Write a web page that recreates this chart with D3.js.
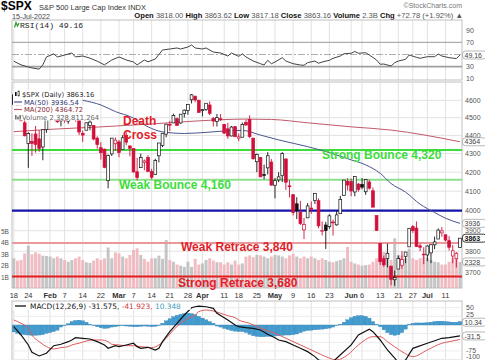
<!DOCTYPE html>
<html>
<head>
<meta charset="utf-8">
<script src="https://cdn.jsdelivr.net/npm/d3@7"></script>
<style>
body { margin: 0; background: #fff; }
svg { display: block; font-family: "Liberation Sans", Arial, sans-serif; }
</style>
</head>
<body>
<div id="chart"></div>
<script>
// trading days, 18 Jan 2022 .. 15 Jul 2022
var dates = ["1-18","1-19","1-20","1-21","1-24","1-25","1-26","1-27","1-28","1-31",
  "2-1","2-2","2-3","2-4","2-7","2-8","2-9","2-10","2-11","2-14","2-15","2-16","2-17","2-18","2-22","2-23","2-24","2-25","2-28",
  "3-1","3-2","3-3","3-4","3-7","3-8","3-9","3-10","3-11","3-14","3-15","3-16","3-17","3-18","3-21","3-22","3-23","3-24","3-25","3-28","3-29","3-30","3-31",
  "4-1","4-4","4-5","4-6","4-7","4-8","4-11","4-12","4-13","4-14","4-18","4-19","4-20","4-21","4-22","4-25","4-26","4-27","4-28","4-29",
  "5-2","5-3","5-4","5-5","5-6","5-9","5-10","5-11","5-12","5-13","5-16","5-17","5-18","5-19","5-20","5-23","5-24","5-25","5-26","5-27","5-31",
  "6-1","6-2","6-3","6-6","6-7","6-8","6-9","6-10","6-13","6-14","6-15","6-16","6-17","6-21","6-22","6-23","6-24","6-27","6-28","6-29","6-30",
  "7-1","7-5","7-6","7-7","7-8","7-11","7-12","7-13","7-14","7-15"];

var open = [4632,4588,4547,4471,4356,4367,4408,4381,4336,4432,
  4519,4566,4535,4482,4505,4480,4548,4553,4506,4412,4429,4455,4456,4385,4332,4324,4155,4298,4354,
  4364,4322,4401,4342,4327,4202,4224,4253,4279,4203,4188,4288,4345,4407,4462,4470,4494,4470,4523,4541,4603,4624,4600,
  4540,4547,4573,4495,4479,4494,4462,4437,4397,4449,4385,4390,4473,4489,4385,4256,4279,4187,4223,4254,
  4131,4159,4181,4271,4128,4082,4035,3991,3904,3964,4013,4052,4051,3900,3928,3920,3943,3929,3985,4078,4151,
  4150,4096,4137,4135,4097,4148,4102,3975,3838,3764,3765,3729,3665,3715,3733,3775,3821,3920,3913,3826,3786,
  3782,3792,3831,3859,3889,3880,3851,3777,3764,3818];
var high = [4632,4612,4602,4495,4417,4411,4453,4429,4433,4517,
  4550,4595,4542,4540,4521,4531,4590,4589,4527,4427,4472,4490,4456,4395,4363,4327,4295,4385,4389,
  4375,4401,4417,4343,4328,4277,4300,4268,4292,4218,4272,4358,4412,4465,4482,4523,4501,4520,4547,4575,4637,4627,4604,
  4549,4583,4593,4503,4521,4521,4464,4471,4453,4453,4411,4472,4489,4513,4386,4300,4279,4240,4308,4270,
  4169,4200,4308,4271,4158,4082,4069,4050,3964,4039,4047,4089,4063,3946,3944,3982,3955,3999,4076,4158,4168,
  4166,4177,4143,4169,4164,4160,4119,3975,3838,3779,3837,3729,3708,3779,3801,3797,3913,3928,3946,3837,3819,
  3829,3833,3871,3911,3918,3880,3873,3830,3796,3863.6];
var low = [4569,4530,4478,4395,4223,4287,4305,4310,4264,4414,
  4484,4544,4470,4451,4471,4465,4548,4477,4402,4364,4429,4429,4373,4327,4267,4221,4115,4287,4316,
  4280,4322,4346,4285,4199,4157,4224,4210,4200,4162,4188,4252,4335,4390,4425,4470,4455,4465,4501,4517,4582,4589,4530,
  4507,4539,4514,4450,4450,4481,4408,4381,4395,4392,4368,4390,4453,4385,4267,4200,4175,4162,4188,4128,
  4063,4147,4148,4107,4068,3976,3958,3928,3859,3964,3984,4034,3912,3877,3811,3909,3876,3925,3985,4078,4104,
  4074,4074,4097,4110,4081,4108,4018,3901,3735,3725,3723,3640,3637,3715,3717,3743,3821,3889,3820,3800,3738,
  3752,3743,3810,3859,3870,3847,3803,3742,3722,3817.2];
var close = [4577,4533,4483,4398,4410,4356,4350,4327,4432,4516,
  4547,4589,4477,4501,4484,4522,4587,4504,4419,4402,4471,4475,4380,4349,4305,4226,4289,4385,4374,
  4306,4387,4363,4329,4201,4171,4278,4260,4204,4173,4262,4358,4412,4463,4461,4512,4456,4520,4543,4576,4632,4602,4530,
  4546,4583,4525,4481,4500,4488,4413,4397,4447,4393,4392,4462,4459,4394,4272,4296,4175,4184,4288,4132,
  4155,4175,4300,4147,4123,3991,4001,3935,3930,4024,4008,4089,3924,3901,3901,3974,3941,3979,4058,4158,4132,
  4101,4177,4109,4121,4161,4116,4018,3901,3750,3735,3790,3667,3675,3765,3760,3796,3912,3900,3822,3819,3785,
  3825,3831,3845,3903,3899,3854,3819,3802,3790,3863.16];
// volume, billions of shares
var volume = [2.65,2.44,2.5,3.09,3.76,3.0,3.17,3.05,2.88,2.85,
  2.8,2.65,2.8,2.65,2.5,2.35,2.5,2.65,2.8,2.5,2.3,2.25,2.45,2.65,2.5,2.65,3.6,2.65,3.17,
  3.09,2.8,2.65,2.94,3.38,3.53,2.94,2.6,2.35,2.65,2.65,2.88,2.6,4.25,2.5,2.35,2.1,2.0,1.9,2.35,1.9,2.6,2.1,
  2.2,2.5,2.65,2.45,2.3,2.3,2.1,2.3,2.1,2.45,2.1,2.2,2.8,2.9,2.75,2.94,2.9,2.8,2.65,2.8,
  2.94,2.9,2.8,2.65,2.9,3.05,2.8,2.65,2.8,2.65,2.8,2.65,2.5,2.65,2.5,2.35,2.3,2.4,2.5,2.65,3.65,
  2.35,2.2,2.1,2.0,2.05,2.1,2.35,2.65,3.5,3.2,2.8,2.5,4.4,2.94,2.9,2.65,3.5,2.65,2.5,2.65,2.8,
  2.65,2.5,2.35,2.3,2.1,2.1,2.35,2.65,2.65,2.33];

// moving averages (trading day number, value)
var ma50Day = [19,24,28,33,37,41,47,53,59,63,68,73,81,87,93,97,101,104,108,112,116,119,123];
var ma50Val = [4600,4573,4535,4498,4448,4420,4411,4417,4426,4428,4402,4375,4338,4305,4266,4239,4194,4140,4095,4033,3991,3962,3936.54];
var ma200Day = [0,10,24,37,51,64,71,81,93,104,113,123];
var ma200Val = [4421,4434,4448,4463,4482,4492,4490,4471,4448,4430,4403,4364.72];

// RSI(14)
var rsiDay = [0,2,4,5,7,8,9,11,12,14,16,17,19,21,23,25,27,29,31,33,34,36,37,39,41,43,45,46,48,49,50,52,53,55,57,59,60,62,63,64,
  66,68,69,70,71,72,74,75,77,79,80,81,83,84,85,87,88,90,91,93,94,95,97,98,100,101,102,104,105,106,108,109,111,112,114,116,117,118,120,122,123];
var rsiVal = [39,33,29.5,28,26,33,46,51,46,49,52.5,46,47.5,44,39,33,41,46,41,37.7,33,41,38,42.6,57.4,59,60.7,59,62.3,65.6,60.7,59,60.7,54,52.5,47.5,52.5,47,51,46,
  39.3,34.9,32.8,40.5,34.9,37.7,44.8,39.3,34.9,32.8,32.3,36.6,39.3,35.6,37.7,40.5,43.8,47.5,51.2,52,54.9,52,52.9,49.2,41,34,34.4,31.1,36.6,39.3,42.1,49.2,45.4,43.8,46.4,46.4,50.8,47.5,44.8,43.3,49.16];

// MACD(12,26,9)
var macdDay = [0,2,4,5,7,9,11,13,15,16,17,19,21,23,25,26,28,29,31,33,34,35,37,39,40,41,43,45,47,49,50,51,53,55,56,59,61,62,64,66,68,70,72,73,75,77,79,81,83,84,86,88,89,93,95,98,99,101,103,105,106,107,108,110,114,118,120,123];
var macdVal = [-4.9,-28.9,-57.7,-78.8,-89.5,-81.7,-59.8,-55.7,-48.2,-43.3,-36.7,-38.4,-40.4,-48.2,-57.7,-67.3,-59.8,-62.6,-57.7,-52.8,-62.6,-67.3,-64.4,-72.2,-67.3,-48.2,-19.3,4.9,28.9,49.9,52.8,54.8,52.8,48.2,33.8,14.4,0,-4.9,-7.7,-9.6,-14.4,-26.9,-36.6,-43.3,-48.1,-57.7,-67.4,-77,-91.4,-101,-108,-106,-96,-57.7,-28.9,-12.4,-19.3,-43.3,-72.2,-96,-108,-110,-101,-67.4,-52.8,-38.4,-36.6,-31.575];
var signalDay = [0,2,4,5,7,9,11,13,15,16,18,20,22,24,26,27,29,31,33,35,37,38,40,42,44,46,48,50,51,53,55,57,59,61,62,65,68,72,75,79,83,86,89,92,95,99,101,103,107,110,114,118,120,123];
var signalVal = [14.4,4.9,-9.5,-28.9,-48.2,-62.6,-69.3,-65.5,-62.6,-57.7,-52.8,-46.2,-43.3,-43.3,-48.2,-55.7,-57.7,-59.8,-59.8,-62.6,-64.4,-65.5,-57.7,-38.4,-14.4,4.9,19.3,28.9,38.4,43.3,40.4,33.8,26.9,21.1,14.4,4.9,-9.6,-24,-38.4,-57.7,-77,-91.4,-101,-86.6,-57.7,-33.8,-33.8,-48.1,-77,-91.4,-72.2,-52.8,-48.1,-41.923];
var histVal = [-20,-24,-27,-28,-29,-30,-30,-29,-28,-24,-22,-19,-15,-6,-2,4,10,13,14,12,8,2,-2,-5,-8,-10,-9,-6,-5,
  -3,-2,-3,-4,-5,-5,-4,-3,-4,-5,-4,-2,5,12,18,24,28,31,33,34,33,30,25,
  20,15,10,5,-3,-6,-10,-13,-16,-18,-19,-19,-22,-27,-31,-33,-34,-34,-33,-33,
  -32,-31,-30,-29,-29,-28,-26,-22,-18,-16,-15,-14,-13,-12,-11,-9,-6,-2,2,8,15,
  21,25,27,27,25,20,10,2,-5,-14,-22,-28,-30,-28,-22,-12,2,5,6,6,6,
  7,8,10,11,11,10,9,8,8,10.35];

var tickDates = ["1-18","1-24","2-1","2-7","2-14","2-22","3-1","3-7","3-14","3-21","3-28","4-1","4-11","4-18","4-25","5-2","5-9","5-16","5-23","6-1","6-6","6-13","6-21","6-27","7-1","7-11"];
var tickLabels = ["18","24","Feb","7","14","22","Mar","7","14","21","28","Apr","11","18","25","May","9","16","23","Jun","6","13","21","27","Jul","11"];
var priceTicks = [3700,3800,3900,4000,4100,4200,4300,4400,4500,4600];
var volTicks = [1,2,3,4,5];
var rsiTicks = [10,30,70,90];
var macdGrid = [50,25,0,-25,-50,-75,-100];
var macdTicks = [50,25,-75,-100];

// support / resistance notes
var levels = [4320,4160,4000,3840,3680];
var levelColors = ["#3ddc3d","#8ee08e","#1414a8","#e89a9a","#e01e1e"];
var levelNames = ["Strong Bounce 4,320","Weak Bounce 4,160","","Weak Retrace 3,840","Strong Retrace 3,680"];

var W = 485, H = 360;
var left = 12, right = 462;
var rsiTop = 20, rsiBot = 80, pTop = 82, pBot = 288, mTop = 301, mBot = 360;

var svg = d3.select("#chart").append("svg").attr("width", W).attr("height", H);

var x = d3.scalePoint().domain(dates).range([13.8, 460]);
var xi = function(i) { return x(dates[i]); };
var yP = d3.scaleLog().domain([3627, 4708]).range([pBot, pTop]);
var yV = d3.scaleLinear().domain([0, 5]).range([288.5, 231.5]);
var yR = d3.scaleLinear().domain([0, 100]).range([85, 24]);
var yM = d3.scaleLinear().domain([-100, 50]).range([359.6, 307.7]);

var defs = svg.append("defs");
function clip(id, y0, y1) {
  defs.append("clipPath").attr("id", id).append("rect")
    .attr("x", left).attr("y", y0).attr("width", right - left).attr("height", y1 - y0);
}
clip("cr", rsiTop, rsiBot); clip("cp", pTop, pBot); clip("cm", mTop, mBot);

// ---------- header ----------
svg.append("text").attr("x", 1).attr("y", 9.6).attr("font-size", 12).attr("font-weight", "bold").text("$SPX");
svg.append("text").attr("x", 39).attr("y", 9.5).attr("font-size", 7.5).attr("fill", "#333").text("S&P 500 Large Cap Index  INDX");
svg.append("text").attr("x", 462).attr("y", 7.5).attr("font-size", 7).attr("fill", "#777").attr("text-anchor", "end").text("\u00a9StockCharts.com");
svg.append("text").attr("x", 12).attr("y", 18.5).attr("font-size", 7.2).attr("fill", "#444").text("15-Jul-2022");

var hdr = svg.append("text").attr("x", 463).attr("y", 17.5).attr("font-size", 7.6).attr("text-anchor", "end");
[["Open ", "3818.00 "], ["High ", "3863.62 "], ["Low ", "3817.18 "], ["Close ", "3863.16 "], ["Volume ", "2.3B "], ["Chg ", "+72.78 (+1.92%) \u25b2"]]
  .forEach(function(p) {
    hdr.append("tspan").attr("font-weight", "bold").attr("fill", "#111").text(p[0]);
    hdr.append("tspan").attr("fill", "#555").text(p[1]);
  });

// ---------- panel frames + vertical grid ----------
[[rsiTop, rsiBot], [pTop, pBot], [mTop, mBot]].forEach(function(p) {
  var g = svg.append("g");
  g.selectAll("line").data(tickDates).enter().append("line")
    .attr("x1", function(d) { return x(d); }).attr("x2", function(d) { return x(d); })
    .attr("y1", p[0]).attr("y2", p[1])
    .attr("stroke", "#e2e2e2").attr("stroke-width", 1);
  g.append("rect").attr("x", left).attr("y", p[0]).attr("width", right - left).attr("height", p[1] - p[0])
    .attr("fill", "none").attr("stroke", "#b0b0b0").attr("stroke-width", 0.8);
});

// ---------- RSI ----------
svg.append("line").attr("x1", left).attr("x2", right).attr("y1", yR(70)).attr("y2", yR(70)).attr("stroke", "#9a9a9a").attr("stroke-width", 1);
svg.append("line").attr("x1", left).attr("x2", right).attr("y1", yR(30)).attr("y2", yR(30)).attr("stroke", "#a0a0a0").attr("stroke-width", 1.8);
svg.append("line").attr("x1", left).attr("x2", right).attr("y1", yR(50)).attr("y2", yR(50)).attr("stroke", "#999").attr("stroke-width", 0.8).attr("stroke-dasharray", "7,2,2,2");
svg.append("path").datum(rsiDay).attr("clip-path", "url(#cr)")
  .attr("d", d3.line().x(function(d) { return xi(d); }).y(function(d, i) { return yR(rsiVal[i]); }))
  .attr("fill", "none").attr("stroke", "#444").attr("stroke-width", 1);
svg.append("rect").attr("x", 13).attr("y", 21).attr("width", 70).attr("height", 8).attr("fill", "#fff");
svg.append("path").attr("d", "M14.5,27.5 L16,22.5 L17.5,26 L19,23").attr("fill", "none").attr("stroke", "#2a9a2a").attr("stroke-width", 1.2);
svg.append("text").attr("x", 20).attr("y", 28).attr("font-family", "Liberation Mono, monospace").attr("font-size", 8.1).attr("fill", "#222").text("RSI(14) 49.16");
svg.selectAll(".rt").data(rsiTicks).enter().append("text")
  .attr("x", 466).attr("y", function(d) { return yR(d) + 2.5; })
  .attr("font-size", 7).attr("fill", "#555").text(function(d) { return d; });

// ---------- price panel ----------
var pg = svg.append("g").attr("clip-path", "url(#cp)");
pg.selectAll(".hg").data(priceTicks).enter().append("line")
  .attr("x1", left).attr("x2", right).attr("y1", function(d) { return yP(d); }).attr("y2", function(d) { return yP(d); })
  .attr("stroke", "#e2e2e2");

// volume overlay
var bw = x.step() * 0.82;
pg.selectAll(".vb").data(volume).enter().append("rect")
  .attr("x", function(d, i) { return xi(i) - bw / 2; })
  .attr("y", function(d) { return yV(d); })
  .attr("width", bw).attr("height", function(d) { return yV(0) - yV(d); })
  .attr("fill", function(d, i) { return i > 0 && close[i] < close[i - 1] ? "#f0b0b8" : "#bbbbbb"; })
  .attr("fill-opacity", 0.85);

// level lines
pg.selectAll(".lv").data(levels).enter().append("line")
  .attr("x1", left).attr("x2", right)
  .attr("y1", function(d) { return yP(d); }).attr("y2", function(d) { return yP(d); })
  .attr("stroke", function(d, i) { return levelColors[i]; })
  .attr("stroke-width", function(d, i) { return i == 2 ? 2.2 : 2; });

// moving averages
pg.append("path").datum(ma200Day)
  .attr("d", d3.line().curve(d3.curveMonotoneX).x(function(d) { return xi(d); }).y(function(d, i) { return yP(ma200Val[i]); }))
  .attr("fill", "none").attr("stroke", "#c05a6a").attr("stroke-width", 1);
pg.append("path").datum(ma50Day)
  .attr("d", d3.line().curve(d3.curveMonotoneX).x(function(d) { return xi(d); }).y(function(d, i) { return yP(ma50Val[i]); }))
  .attr("fill", "none").attr("stroke", "#4a5590").attr("stroke-width", 1);

// candles
var cw = 2.8;
var candles = pg.selectAll(".cd").data(close).enter().append("g");
function col(i) { return i > 0 && close[i] < close[i - 1] ? "#d0103a" : "#111"; }
candles.append("line")
  .attr("x1", function(d, i) { return xi(i); }).attr("x2", function(d, i) { return xi(i); })
  .attr("y1", function(d, i) { return yP(high[i]); }).attr("y2", function(d, i) { return yP(low[i]); })
  .attr("stroke", function(d, i) { return col(i); }).attr("stroke-width", 0.9);
candles.append("rect")
  .attr("x", function(d, i) { return xi(i) - cw / 2; })
  .attr("y", function(d, i) { return yP(Math.max(open[i], close[i])); })
  .attr("width", cw)
  .attr("height", function(d, i) { return Math.max(0.8, Math.abs(yP(open[i]) - yP(close[i]))); })
  .attr("fill", function(d, i) { return close[i] > open[i] ? "#fff" : col(i); })
  .attr("stroke", function(d, i) { return col(i); }).attr("stroke-width", 0.7);

// note texts
var noteX = [322, 119, 0, 181, 178];
var noteY = [159, 188.5, 0, 251, 287];
svg.selectAll(".nt").data(levelNames).enter().filter(function(d) { return d != ""; }).append("text")
  .attr("x", function(d) { return noteX[levelNames.indexOf(d)]; })
  .attr("y", function(d) { return noteY[levelNames.indexOf(d)]; })
  .attr("font-size", 12).attr("font-weight", "bold")
  .attr("fill", function(d) { return levelNames.indexOf(d) < 2 ? "#3ddc3d" : "#e01e2a"; })
  .text(function(d) { return d; });
svg.append("text").attr("x", 123).attr("y", 125).attr("font-size", 12).attr("font-weight", "bold").attr("fill", "#e01e2a").text("Death");
svg.append("text").attr("x", 123).attr("y", 139).attr("font-size", 12).attr("font-weight", "bold").attr("fill", "#e01e2a").text("Cross");

// legend
var legend = [
  { t: "$SPX (Daily) 3863.16", c: "#222", y: 97 },
  { t: "MA(50) 3936.54", c: "#2c3570", y: 104.5 },
  { t: "MA(200) 4364.72", c: "#8a2a3a", y: 112 },
  { t: "Volume 2,328,811,264", c: "#666", y: 119.5 }
];
legend.forEach(function(l, k) {
  var tx = k == 0 || k == 3 ? 22 : 24;
  var t = svg.append("text").attr("x", tx).attr("y", l.y).attr("font-family", "DejaVu Sans, sans-serif")
    .attr("font-size", 6.8).attr("fill", l.c).text(l.t);
  var w = t.node().getComputedTextLength();
  svg.insert("rect", "text:last-of-type").attr("x", 13).attr("y", l.y - 6.5).attr("width", tx - 13 + w + 1).attr("height", 7.5).attr("fill", "#fff");
  t.raise();
});
svg.append("rect").attr("x", 15).attr("y", 92).attr("width", 1.6).attr("height", 4).attr("fill", "#111");
svg.append("rect").attr("x", 18).attr("y", 91).attr("width", 1.6).attr("height", 5).attr("fill", "#fff").attr("stroke", "#111").attr("stroke-width", 0.5);
svg.append("line").attr("x1", 14).attr("x2", 22).attr("y1", 102).attr("y2", 102).attr("stroke", "#4a5590").attr("stroke-width", 1.2);
svg.append("line").attr("x1", 14).attr("x2", 22).attr("y1", 109.5).attr("y2", 109.5).attr("stroke", "#c05a6a").attr("stroke-width", 1.2);
[15, 17.2, 19.4].forEach(function(v, k) {
  svg.append("rect").attr("x", v).attr("y", 115 + (k % 2) * 1.5).attr("width", 1.6).attr("height", 4.5 - (k % 2) * 1.5).attr("fill", "#777");
});

// price axis labels
svg.selectAll(".pt").data(priceTicks).enter().append("text")
  .attr("x", 465).attr("y", function(d) { return yP(d) + 2.5; })
  .attr("font-size", 7).attr("fill", "#555").text(function(d) { return d; });
svg.selectAll(".vt").data(volTicks).enter().append("text")
  .attr("x", 1).attr("y", function(d) { return yV(d) + 2.5; })
  .attr("font-size", 6.5).attr("fill", "#555").text(function(d) { return d + "B"; });

// value boxes on the right edge
function valueBox(y, label, bold) {
  svg.append("rect").attr("x", 462.5).attr("y", y - 4).attr("width", 24).attr("height", 8).attr("rx", 3)
    .attr("fill", "#fff").attr("stroke", bold ? "#222" : "#888").attr("stroke-width", bold ? 0.9 : 0.6);
  svg.append("text").attr("x", 464.5).attr("y", y + 2.6).attr("font-size", 7)
    .attr("font-weight", bold ? "bold" : "normal").attr("fill", bold ? "#111" : "#444").text(label);
}
valueBox(yR(49.16), "49.16", false);
valueBox(yP(4364.72), "4364", false);
valueBox(yP(3936.54), "3936", false);
valueBox(yP(3863.16), "3863", true);
valueBox(yV(2.328811264), "2328", false);

// date labels
svg.selectAll(".dl").data(tickDates).enter().append("text")
  .attr("x", function(d) { return x(d); }).attr("y", 298)
  .attr("text-anchor", "middle").attr("font-size", 7.5)
  .attr("font-weight", function(d, i) { return isNaN(+tickLabels[i]) ? "bold" : "normal"; })
  .attr("fill", "#333").text(function(d, i) { return tickLabels[i]; });

// ---------- MACD ----------
var mg = svg.append("g").attr("clip-path", "url(#cm)");
mg.selectAll(".mgl").data(macdGrid).enter().append("line")
  .attr("x1", left).attr("x2", right).attr("y1", function(d) { return yM(d); }).attr("y2", function(d) { return yM(d); })
  .attr("stroke", "#ececec");
var hw = x.step() * 0.95;
mg.selectAll(".hb").data(histVal).enter().append("rect")
  .attr("x", function(d, i) { return xi(i) - hw / 2; })
  .attr("y", function(d) { return d > 0 ? yM(d) : yM(0); })
  .attr("width", hw).attr("height", function(d) { return Math.abs(yM(d) - yM(0)); })
  .attr("fill", "#3f9bd0").attr("stroke", "#2f7aa8").attr("stroke-width", 0.3);
mg.append("path").datum(signalDay)
  .attr("d", d3.line().curve(d3.curveMonotoneX).x(function(d) { return xi(d); }).y(function(d, i) { return yM(signalVal[i]); }))
  .attr("fill", "none").attr("stroke", "#e05a5a").attr("stroke-width", 1);
mg.append("path").datum(macdDay)
  .attr("d", d3.line().x(function(d) { return xi(d); }).y(function(d, i) { return yM(macdVal[i]); }))
  .attr("fill", "none").attr("stroke", "#111").attr("stroke-width", 1.2);

svg.append("rect").attr("x", 13).attr("y", 302).attr("width", 178).attr("height", 8).attr("fill", "#fff").attr("fill-opacity", 0.8);
svg.append("line").attr("x1", 15).attr("x2", 26).attr("y1", 306).attr("y2", 306).attr("stroke", "#111").attr("stroke-width", 1.3);
var ml = svg.append("text").attr("x", 30).attr("y", 309).attr("font-family", "DejaVu Sans, sans-serif").attr("font-size", 7.4);
ml.append("tspan").attr("fill", "#222").text("MACD(12,26,9) -31.575, ");
ml.append("tspan").attr("fill", "#d04040").text("-41.923, ");
ml.append("tspan").attr("fill", "#3f9bc0").text("10.348");

svg.selectAll(".mt").data(macdTicks).enter().append("text")
  .attr("x", 466).attr("y", function(d) { return Math.min(359, yM(d) + (d == 25 ? 1 : 2.5)); })
  .attr("font-size", 7).attr("fill", "#555").text(function(d) { return d; });
valueBox(yM(10.348) + 0.8, "10.34", false);
valueBox(yM(-31.575), "-31.5", false);
</script>
</body>
</html>
